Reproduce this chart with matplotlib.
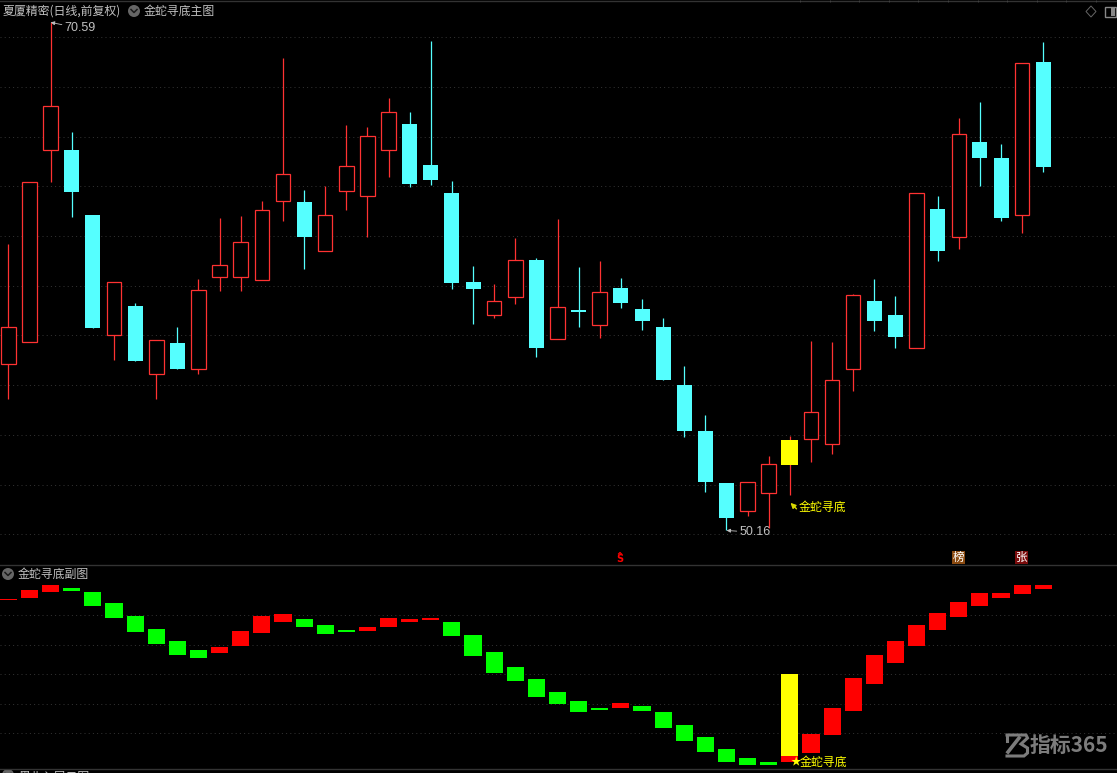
import numpy as np
import matplotlib
matplotlib.use("Agg")
import matplotlib.pyplot as plt
from matplotlib.patches import Circle, Rectangle, Polygon

plt.rcParams['font.family'] = ['Noto Sans CJK SC', 'DejaVu Sans']

open_ = [56.84,57.73,65.45,65.46,62.84,58.01,59.19,56.44,57.70,56.64,60.34,60.34,60.22,63.39,63.37,61.39,63.82,63.62,65.45,66.50,64.85,63.73,60.15,58.84,59.54,61.04,57.87,59.03,58.43,59.91,59.07,58.34,56.01,54.16,52.07,50.96,51.68,52.79,53.85,53.65,56.67,59.39,58.82,57.51,63.09,61.97,65.78,65.14,62.83,68.99]
high  = [61.68,64.16,70.59,66.18,62.84,60.14,59.31,57.81,58.34,60.26,62.71,62.80,63.40,69.16,63.85,64.01,66.46,66.38,67.55,66.98,69.84,64.21,60.79,60.07,61.92,61.12,62.68,60.75,61.00,60.31,59.47,58.70,56.77,54.80,52.07,52.10,53.16,53.96,57.78,57.74,59.67,60.27,59.59,63.72,63.61,66.74,67.39,65.70,68.94,69.80]
low   = [55.46,57.73,64.18,62.78,58.31,57.03,56.99,55.46,56.67,56.46,59.80,59.80,60.22,62.62,60.69,61.39,63.06,61.97,64.38,63.98,64.06,59.88,58.47,58.72,59.28,57.15,57.87,58.34,57.91,59.11,58.22,56.21,53.92,51.71,50.16,50.74,50.26,51.59,52.93,53.24,55.78,58.18,57.50,57.51,61.00,61.48,64.01,62.60,62.12,64.57]
close = [58.33,64.16,67.21,63.78,58.31,60.14,56.99,57.81,56.67,59.82,60.82,61.75,63.03,64.48,61.97,62.83,64.80,66.01,66.97,64.10,64.26,60.12,59.88,59.38,61.02,57.51,59.13,58.96,59.74,59.31,58.58,56.21,54.16,52.11,50.66,52.10,52.82,53.80,54.91,56.20,59.62,58.58,57.94,63.72,61.40,66.09,65.14,62.72,68.94,64.77]

sub_open  = [110.60,111.93,115.80,118.51,115.80,108.34,99.53,90.71,82.58,76.47,74.44,79.19,88.00,95.46,97.49,93.42,90.03,89.36,92.07,95.46,96.81,95.46,86.64,75.12,64.95,56.81,48.00,41.90,37.15,37.15,38.51,34.44,25.62,17.49,9.35,3.25,0.54,0.54,6.64,18.84,35.12,53.42,67.66,79.19,90.03,98.85,106.31,111.73,114.44,117.83]
sub_close = [111.20,117.15,120.54,116.48,106.31,98.17,88.68,80.54,73.08,71.05,78.51,89.36,99.53,100.88,92.07,87.32,88.68,92.07,98.17,97.49,98.17,85.96,72.41,60.88,55.46,44.61,39.86,34.44,35.80,40.54,35.12,23.69,14.78,7.32,0.54,-1.50,-1.50,4.61,19.51,37.15,57.49,73.08,82.58,93.42,101.56,109.02,115.12,115.12,120.54,120.54]

signal_index = 37
signal_low = 4.61
signal_high = 60.20

price_ticks = list(range(50, 72, 2))
sub_ticks = [100, 80, 60, 40, 20]

BG = '#000000'
RED = '#ff3232'
CYAN = '#55ffff'
GRID = '#333333'
TXT = '#c0c0c0'
W, H = 1117, 773

fig = plt.figure(figsize=(W / 100, H / 100), dpi=100, facecolor=BG)
ax = fig.add_axes([0, 1 - 565 / H, 1, 565 / H], facecolor=BG)
sub = fig.add_axes([0, 1 - 770 / H, 1, 204 / H], facecolor=BG)
over = fig.add_axes([0, 0, 1, 1], facecolor='none')
over.set_xlim(0, W); over.set_ylim(H, 0); over.axis('off')

x = np.arange(len(open_))
xlim = (-0.398, 52.49)
o, h, l, c = map(np.array, (open_, high, low, close))
up = c >= o
sig = x == signal_index

# main pane
ax.set_xlim(*xlim); ax.set_ylim(48.77, 71.49); ax.axis('off')
for t in price_ticks:
    ax.axhline(t, color=GRID, lw=0.72, ls=(0, (1, 3.2)), zorder=1)
ax.vlines(x[up], l[up], h[up], color=RED, lw=0.9, zorder=2)
ax.vlines(x[~up], l[~up], h[~up], color=CYAN, lw=0.9, zorder=2)
hollow = up & ~sig
ax.bar(x[hollow], (c - o)[hollow], bottom=o[hollow], width=0.69, facecolor=BG,
       edgecolor=RED, linewidth=0.9, zorder=3)
ax.bar(x[~up], (c - o)[~up], bottom=o[~up], width=0.71, color=CYAN, linewidth=0, zorder=3)
ax.bar(x[sig], (c - o)[sig], bottom=o[sig], width=0.81, color='#ffff00', linewidth=0, zorder=3)

arrow = dict(arrowstyle='-|>,head_width=0.12,head_length=0.25', color=TXT, lw=0.6, shrinkA=0, shrinkB=0)
i_hi, i_lo = int(np.argmax(h)), int(np.argmin(l))
ax.annotate(f'{h[i_hi]:.2f}', xy=(i_hi, h[i_hi]), xytext=(14, -6), textcoords='offset pixels',
            color=TXT, fontsize=9, family=['Liberation Sans'], va='center', ha='left',
            arrowprops=arrow, annotation_clip=False)
ax.annotate(f'{l[i_lo]:.2f}', xy=(i_lo, l[i_lo]), xytext=(13, -2), textcoords='offset pixels',
            color=TXT, fontsize=9, family=['Liberation Sans'], va='center', ha='left',
            arrowprops=arrow, annotation_clip=False)
tip = (signal_index + 0.03, l[signal_index] - 0.32)
ax.annotate('', xy=tip, xytext=(6, -6), textcoords='offset pixels',
            arrowprops=dict(arrowstyle='-|>,head_width=0.15,head_length=0.3', color='#d8d800', lw=1.0,
                            shrinkA=0, shrinkB=0))
ax.annotate('金蛇寻底', xy=tip, xytext=(8, -4), textcoords='offset pixels', color='#ffff00',
            fontsize=8.6, va='center', ha='left')

# sub pane
sub.set_xlim(*xlim); sub.set_ylim(-4.9, 133.4); sub.axis('off')
for t in sub_ticks:
    sub.axhline(t, color=GRID, lw=0.72, ls=(0, (1, 3.2)), zorder=1)
so, sc = np.array(sub_open), np.array(sub_close)
sup = sc >= so
sub.bar(x[sup], (sc - so)[sup], bottom=so[sup], width=0.81, color='#ff0000', linewidth=0, zorder=3)
sub.bar(x[~sup], (sc - so)[~sup], bottom=so[~sup], width=0.81, color='#00ff00', linewidth=0, zorder=3)
sub.bar([signal_index], [signal_high - signal_low], bottom=[signal_low], width=0.81,
        color='#ffff00', linewidth=0, zorder=4)

# chrome
def T(px, py, s, **kw):
    kw.setdefault('color', TXT); kw.setdefault('fontsize', 8.6)
    kw.setdefault('va', 'center'); kw.setdefault('ha', 'left')
    over.text(px, py, s, **kw)

def chevron(cx, cy):
    over.add_patch(Circle((cx, cy), 6, fc='#666666', ec='none'))
    over.plot([cx - 3, cx, cx + 3], [cy - 1.5, cy + 1.5, cy - 1.5], color='#1a1a1a', lw=1.1)

T(3, 11, '夏厦精密(日线,前复权)')
chevron(134, 11)
T(144, 11, '金蛇寻底主图')
chevron(8, 574)
T(18, 574, '金蛇寻底副图')
chevron(8, 775)
T(18, 777.5, '黑北入尾云图', clip_on=True)

T(791, 762, '★', color='#ffff00', fontsize=7.5)
T(799.5, 762, '金蛇寻底', color='#ffff00')

over.plot([0, W], [1, 1], color='#333333', lw=1.0)
over.plot([0, W], [565, 565], color='#333333', lw=1.0)
over.plot([0, W], [768.5, 768.5], color='#333333', lw=1.0)
over.vlines(np.arange(800, 1117, 29.6), 0, 2, color='#444444', lw=0.6)

over.add_patch(Polygon([(1091, 6), (1096, 11.5), (1091, 17), (1086, 11.5)], closed=True,
                       fc='none', ec='#666666', lw=0.7))
over.add_patch(Rectangle((1105, 7), 11, 10, fc='none', ec='#888888', lw=1.0))
over.add_patch(Rectangle((1111, 8), 3.5, 8, fc='#888888', ec='none'))

# stock marks
T(620, 559, 'S', color='#ff0000', fontsize=7, ha='center', fontweight='bold', family=['DejaVu Sans'])
over.plot([618.5, 620, 621.5], [554, 552.5, 554], color='#ff0000', lw=0.9)
over.add_patch(Rectangle((952, 551), 13, 13, fc='#8a4a10', ec='none'))
T(958.5, 557.5, '榜', color='white', fontsize=8.4, ha='center')
over.add_patch(Rectangle((1015, 551), 13, 13, fc='#7a0c0c', ec='none'))
T(1021.5, 557.5, '张', color='white', fontsize=8.4, ha='center')

# watermark
LOGO = '#7c7c7c'
over.plot([1007, 1026, 1027.5, 1021, 1027.5, 1027.5, 1024, 1007],
          [735, 735, 738, 744, 748, 753, 756, 756], color=LOGO, lw=2.2, solid_joinstyle='miter')
over.plot([1019, 1008], [738, 752], color=LOGO, lw=2.6)
over.plot([1007, 1007], [735, 741], color=LOGO, lw=2.2)
T(1030, 745, '指标365', color=LOGO, fontsize=15, fontweight='bold')

fig.savefig('out.png', dpi=100, facecolor=BG)
